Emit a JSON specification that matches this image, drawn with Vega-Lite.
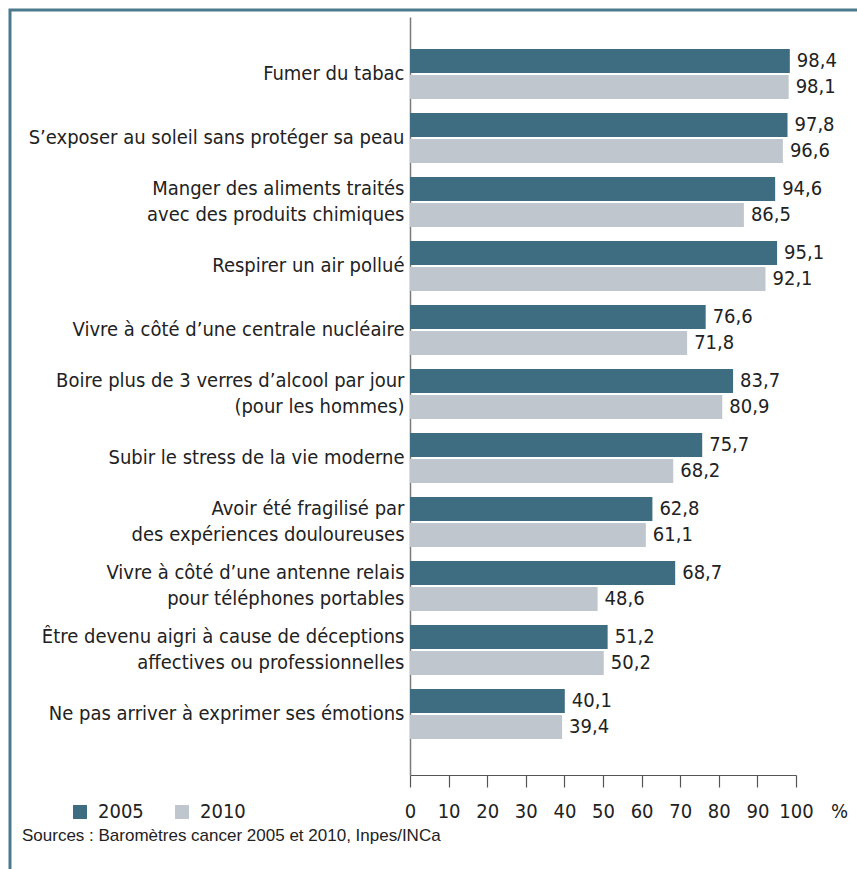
{
  "$schema": "https://vega.github.io/schema/vega-lite/v6.json",
  "autosize": "none",
  "width": 386,
  "height": 758,
  "padding": {"left": 410, "top": 17, "right": 61, "bottom": 94},
  "background": "white",
  "title": {
    "text": "Sources : Baromètres cancer 2005 et 2010, Inpes/INCa",
    "orient": "top",
    "anchor": "start",
    "frame": "group",
    "dx": -388,
    "dy": 849.5,
    "offset": 0,
    "font": "Liberation Sans",
    "fontSize": 17,
    "fontWeight": "normal",
    "color": "#222222",
    "baseline": "alphabetic"
  },
  "data": {
    "values": [
      {"cat": "Fumer du tabac", "year": "2005", "value": 98.4},
      {"cat": "Fumer du tabac", "year": "2010", "value": 98.1},
      {"cat": "S’exposer au soleil sans protéger sa peau", "year": "2005", "value": 97.8},
      {"cat": "S’exposer au soleil sans protéger sa peau", "year": "2010", "value": 96.6},
      {"cat": "Manger des aliments traités|avec des produits chimiques", "year": "2005", "value": 94.6},
      {"cat": "Manger des aliments traités|avec des produits chimiques", "year": "2010", "value": 86.5},
      {"cat": "Respirer un air pollué", "year": "2005", "value": 95.1},
      {"cat": "Respirer un air pollué", "year": "2010", "value": 92.1},
      {"cat": "Vivre à côté d’une centrale nucléaire ", "year": "2005", "value": 76.6},
      {"cat": "Vivre à côté d’une centrale nucléaire ", "year": "2010", "value": 71.8},
      {"cat": "Boire plus de 3 verres d’alcool par jour|(pour les hommes)", "year": "2005", "value": 83.7},
      {"cat": "Boire plus de 3 verres d’alcool par jour|(pour les hommes)", "year": "2010", "value": 80.9},
      {"cat": "Subir le stress de la vie moderne", "year": "2005", "value": 75.7},
      {"cat": "Subir le stress de la vie moderne", "year": "2010", "value": 68.2},
      {"cat": "Avoir été fragilisé par  |des expériences douloureuses", "year": "2005", "value": 62.8},
      {"cat": "Avoir été fragilisé par  |des expériences douloureuses", "year": "2010", "value": 61.1},
      {"cat": "Vivre à côté d’une antenne relais|pour téléphones portables", "year": "2005", "value": 68.7},
      {"cat": "Vivre à côté d’une antenne relais|pour téléphones portables", "year": "2010", "value": 48.6},
      {"cat": "Être devenu aigri à cause de déceptions|affectives ou professionnelles", "year": "2005", "value": 51.2},
      {"cat": "Être devenu aigri à cause de déceptions|affectives ou professionnelles", "year": "2010", "value": 50.2},
      {"cat": "Ne pas arriver à exprimer ses émotions", "year": "2005", "value": 40.1},
      {"cat": "Ne pas arriver à exprimer ses émotions", "year": "2010", "value": 39.4}
    ]
  },
  "encoding": {
    "y": {
      "field": "cat",
      "type": "nominal",
      "sort": null,
      "scale": {"paddingInner": 0.21875, "paddingOuter": 0.53125, "align": 0.47},
      "axis": {
        "title": null,
        "ticks": false,
        "domain": true,
        "domainColor": "#7a7a7a",
        "domainWidth": 1.5,
        "labelFont": "DejaVu Sans Condensed, DejaVu Sans, sans-serif",
        "labelFontSize": 20,
        "labelColor": "#222222",
        "labelPadding": 6,
        "labelLimit": 0,
        "labelLineHeight": 26,
        "labelBaseline": "middle",
        "labelOffset": {"condition": {"test": "indexof(datum.value, '|') >= 0", "value": -13}, "value": 0},
        "labelExpr": "split(datum.label, '|')"
      }
    },
    "yOffset": {
      "field": "year",
      "type": "nominal",
      "scale": {"paddingInner": 0.077, "paddingOuter": 0}
    },
    "x": {
      "field": "value",
      "type": "quantitative",
      "scale": {"domain": [0, 100], "nice": false},
      "axis": {
        "values": [0, 10, 20, 30, 40, 50, 60, 70, 80, 90, 100],
        "grid": false,
        "domainColor": "#555555",
        "domainWidth": 1.2,
        "tickColor": "#555555",
        "tickWidth": 1.2,
        "tickSize": 12,
        "labelFont": "DejaVu Sans Condensed, DejaVu Sans, sans-serif",
        "labelFontSize": 20,
        "labelColor": "#222222",
        "labelPadding": 14,
        "labelFlush": false,
        "labelOverlap": false,
        "title": "%",
        "titleFont": "DejaVu Sans Condensed, DejaVu Sans, sans-serif",
        "titleFontSize": 20,
        "titleFontWeight": "normal",
        "titleColor": "#222222",
        "titleX": 429,
        "titleY": 42,
        "titleAlign": "center",
        "titleBaseline": "alphabetic",
        "titleAngle": 0
      }
    }
  },
  "layer": [
    {
      "mark": {"type": "bar"},
      "encoding": {
        "color": {
          "field": "year",
          "type": "nominal",
          "scale": {"domain": ["2005", "2010"], "range": ["#3e6c80", "#bfc6ce"]},
          "legend": {
            "title": null,
            "orient": "none",
            "direction": "horizontal",
            "legendX": -340,
            "legendY": 785,
            "symbolType": "square",
            "symbolSize": 196,
            "symbolStrokeWidth": 0,
            "labelFont": "DejaVu Sans Condensed, DejaVu Sans, sans-serif",
            "labelFontSize": 20,
            "labelColor": "#222222",
            "labelOffset": 8,
            "columnPadding": 28
          }
        },
        "strokeDash": {
          "datum": "cadre",
          "legend": {
            "title": null,
            "orient": "none",
            "legendX": -400,
            "legendY": -7,
            "padding": 600,
            "strokeColor": "#4a7a8c",
            "symbolOpacity": 0,
            "labelOpacity": 0
          }
        }
      }
    },
    {
      "mark": {
        "type": "text",
        "align": "left",
        "baseline": "middle",
        "dx": 7,
        "font": "DejaVu Sans Condensed, DejaVu Sans, sans-serif",
        "fontSize": 20,
        "color": "#222222"
      },
      "encoding": {
        "text": {"field": "value", "type": "quantitative", "format": ".1f"}
      }
    }
  ],
  "config": {
    "view": {"stroke": null},
    "legend": {"strokeWidth": 3},
    "locale": {
      "number": {"decimal": ",", "thousands": " ", "grouping": [3], "currency": ["", " €"]}
    }
  }
}
